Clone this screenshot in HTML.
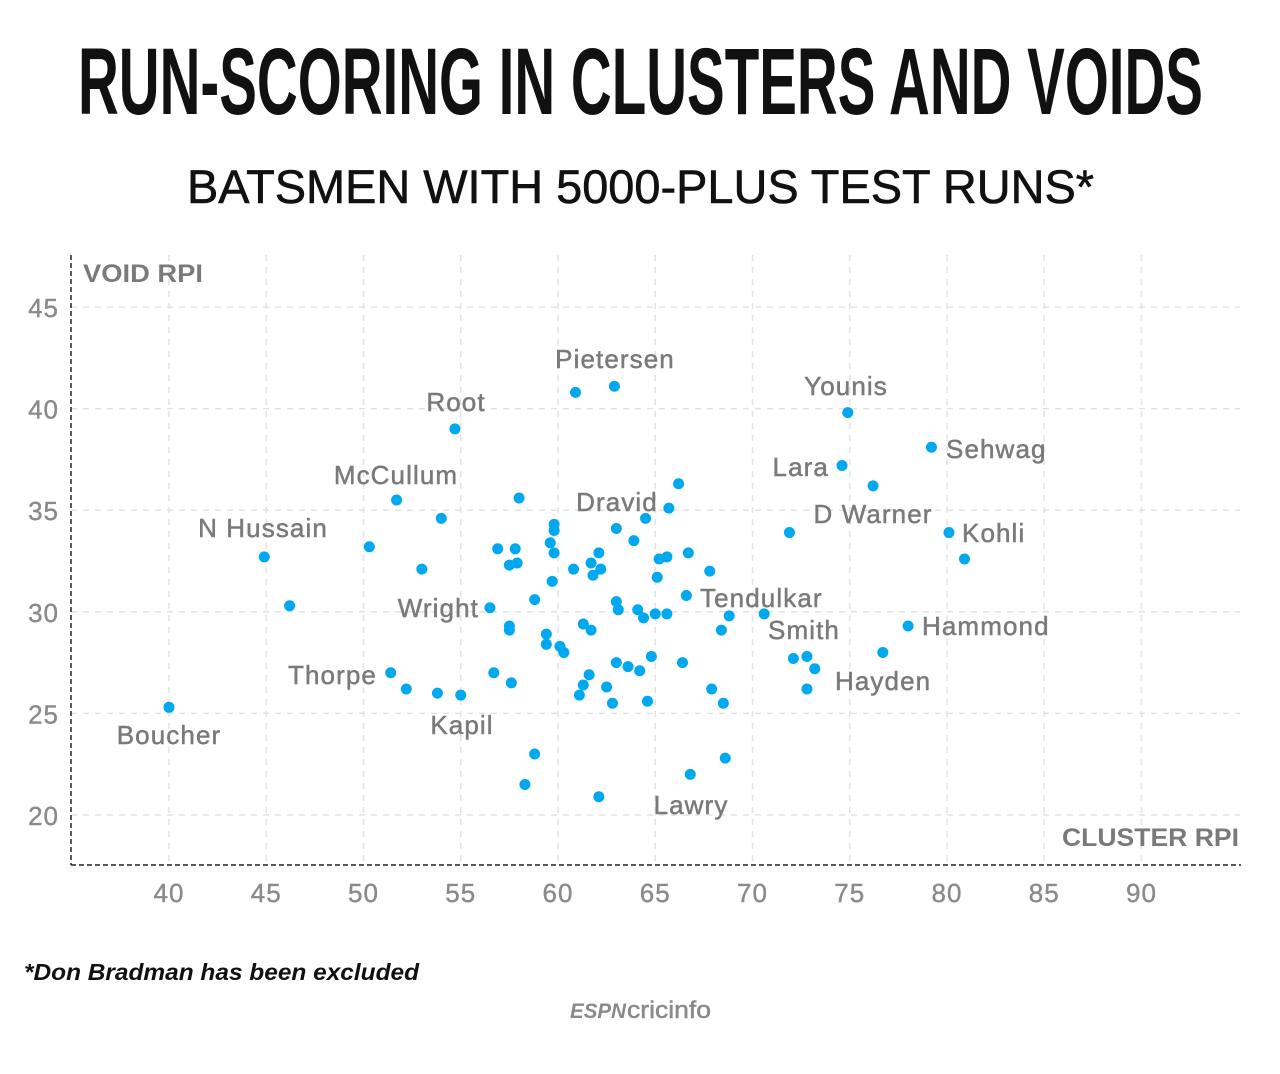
<!DOCTYPE html>
<html><head><meta charset="utf-8"><style>
html,body{margin:0;padding:0;background:#fff;width:1280px;height:1074px;overflow:hidden}
svg{display:block}
text{font-family:"Liberation Sans",sans-serif}
</style></head><body>
<svg id="chart" width="1280" height="1074" viewBox="0 0 1280 1074" xmlns="http://www.w3.org/2000/svg">
<text x="78" y="114" textLength="1125" lengthAdjust="spacingAndGlyphs" font-size="95" font-weight="bold" fill="#111" style="font-family:'Liberation Sans Narrow','Liberation Sans',sans-serif">RUN-SCORING IN CLUSTERS AND VOIDS</text>
<text x="187" y="203" textLength="907" lengthAdjust="spacingAndGlyphs" font-size="47" fill="#111" stroke="#111" stroke-width="0.6">BATSMEN WITH 5000-PLUS TEST RUNS*</text>
<g id="grid"></g>
<g id="axes"></g>
<text x="83" y="282" textLength="120" lengthAdjust="spacingAndGlyphs" font-size="25" font-weight="bold" fill="#7a7a7a">VOID RPI</text>
<text x="1062" y="846" textLength="177" lengthAdjust="spacingAndGlyphs" font-size="25" font-weight="bold" fill="#7a7a7a">CLUSTER RPI</text>
<g id="dots"></g>
<g font-size="26" fill="#7a7a7a" stroke="#7a7a7a" stroke-width="0.5" letter-spacing="1.1">
<text x="615" y="368" text-anchor="middle">Pietersen</text>
<text x="456" y="411" text-anchor="middle">Root</text>
<text x="846" y="395" text-anchor="middle">Younis</text>
<text x="946" y="458">Sehwag</text>
<text x="829" y="476" text-anchor="end">Lara</text>
<text x="396" y="484" text-anchor="middle">McCullum</text>
<text x="617" y="511" text-anchor="middle">Dravid</text>
<text x="873" y="523" text-anchor="middle">D Warner</text>
<text x="962" y="542">Kohli</text>
<text x="263" y="537" text-anchor="middle">N Hussain</text>
<text x="700" y="607">Tendulkar</text>
<text x="479" y="617" text-anchor="end">Wright</text>
<text x="768" y="639">Smith</text>
<text x="922" y="635">Hammond</text>
<text x="377" y="684" text-anchor="end">Thorpe</text>
<text x="835" y="690">Hayden</text>
<text x="462" y="734" text-anchor="middle">Kapil</text>
<text x="169" y="744" text-anchor="middle">Boucher</text>
<text x="691" y="814" text-anchor="middle">Lawry</text>
</g>
<text x="24" y="980" textLength="395" lengthAdjust="spacingAndGlyphs" font-size="23" font-weight="bold" font-style="italic" fill="#111">*Don Bradman has been excluded</text>
<g>
<text x="570" y="1018" font-size="21" font-weight="bold" font-style="italic" fill="#8a8a8a" textLength="56" lengthAdjust="spacingAndGlyphs">ESPN</text>
<text x="627" y="1018" font-size="24" fill="#8a8a8a" stroke="#8a8a8a" stroke-width="0.5" textLength="84" lengthAdjust="spacingAndGlyphs">cricinfo</text>
</g>
</svg>
<script>
const xTicks = [40,45,50,55,60,65,70,75,80,85,90];
const yTicks = [20,25,30,35,40,45];
const clusterRpi = [40.0,44.9,46.2,50.3,51.7,53.0,51.4,52.2,53.8,55.0,54.0,54.7,56.5,56.9,57.5,57.9,57.5,57.5,56.7,57.6,57.8,58.0,58.8,58.8,58.3,59.8,59.8,59.6,59.8,59.7,60.8,59.4,59.4,60.1,60.3,60.9,62.9,66.2,65.7,64.5,63.0,63.9,62.1,66.7,65.2,65.6,61.7,62.2,61.8,67.8,65.1,66.6,63.0,63.1,64.1,64.4,65.0,65.6,68.8,61.3,61.7,68.4,64.8,63.0,63.6,64.2,66.4,61.6,61.3,61.1,62.5,67.9,62.8,64.6,68.5,70.6,72.1,72.8,73.2,72.8,76.7,71.9,74.6,76.2,74.9,79.2,80.1,80.9,78.0,66.8,68.6,62.1];
const voidRpi = [25.3,32.7,30.3,33.2,35.5,32.1,27.0,26.2,26.0,25.9,34.6,39.0,30.2,33.1,32.3,32.4,29.3,29.1,27.0,26.5,33.1,35.6,30.6,23.0,21.5,34.3,34.0,33.4,32.9,31.5,32.1,28.9,28.4,28.3,28.0,40.8,41.1,36.3,35.1,34.6,34.1,33.5,32.9,32.9,32.6,32.7,32.4,32.1,31.8,32.0,31.7,30.8,30.5,30.1,30.1,29.7,29.9,29.9,29.8,29.4,29.1,29.1,27.8,27.5,27.3,27.1,27.5,26.9,26.4,25.9,26.3,26.2,25.5,25.6,25.5,29.9,27.7,27.8,27.2,26.2,28.0,33.9,37.2,36.2,39.8,38.1,33.9,32.6,29.3,22.0,22.8,20.9];
const NS='http://www.w3.org/2000/svg';
const X0=169,XS=19.45,Y0=307,YS=20.32;
function sx(v){return X0+(v-40)*XS;}
function sy(v){return Y0+(45-v)*YS;}
function mk(tag,attrs,parent){const e=document.createElementNS(NS,tag);for(const k in attrs)e.setAttribute(k,attrs[k]);parent.appendChild(e);return e;}
const grid=document.getElementById('grid'),axes=document.getElementById('axes'),dots=document.getElementById('dots');
xTicks.forEach(t=>{
  const l=mk('line',{x1:sx(t),x2:sx(t),y1:255,y2:865,stroke:'#e2e2e2','stroke-width':1.5,'stroke-dasharray':'6 6'},grid);
  
  
  const tx=mk('text',{x:sx(t),y:902,'text-anchor':'middle','font-size':26,'letter-spacing':1,fill:'#8a8a8a',stroke:'#8a8a8a','stroke-width':0.4},axes);
  tx.textContent=t;
  
  
});
yTicks.forEach(t=>{
  const l=mk('line',{x1:71,x2:1240,y1:sy(t),y2:sy(t),stroke:'#e2e2e2','stroke-width':1.5,'stroke-dasharray':'6 6'},grid);
  
  
  const tx=mk('text',{x:59,y:sy(t)+10,'text-anchor':'end','font-size':26,'letter-spacing':1,fill:'#8a8a8a',stroke:'#8a8a8a','stroke-width':0.4},axes);
  tx.textContent=t;
  
  
});
const ya=mk('line',{x1:71,x2:71,y1:255,y2:865,stroke:'#222','stroke-width':1.5,'stroke-dasharray':'5 3'},axes);


const xa=mk('line',{x1:71,x2:1241,y1:865,y2:865,stroke:'#222','stroke-width':1.5,'stroke-dasharray':'5 3'},axes);


clusterRpi.forEach((v,i)=>{
  const c=mk('circle',{cx:sx(v),cy:sy(voidRpi[i]),r:5.5,fill:'#00a8f0'},dots);
  
  
});
</script>
</body></html>
